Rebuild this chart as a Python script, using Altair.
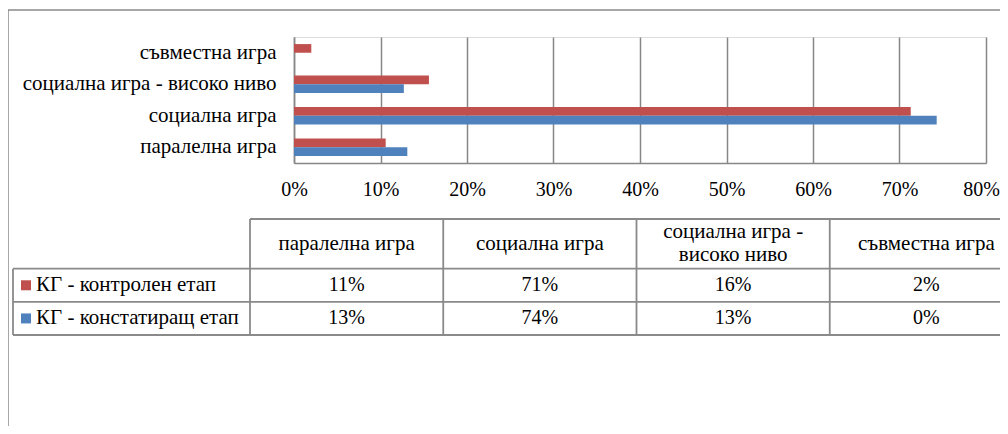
import altair as alt
import pandas as pd

# ---------------- data ----------------
categories = ["паралелна игра", "социална игра", "социална игра - високо ниво", "съвместна игра"]
series_names = ["КГ - контролен етап", "КГ - констатиращ етап"]
control_values = [0.106, 0.713, 0.156, 0.020]
initial_values = [0.131, 0.743, 0.127, 0.000]
x_ticks = [0, 0.1, 0.2, 0.3, 0.4, 0.5, 0.6, 0.7, 0.8]
series_colors = ["#C0504D", "#4F81BD"]

FONT = "Liberation Serif"
FS_TEXT = 21
FS_NUM = 20
FS_LEG = 21
GRID = "#878787"
LINE = "#8a8a8a"

rows = []
for si, (s, vals) in enumerate(zip(series_names, [control_values, initial_values])):
    for c, v in zip(categories, vals):
        rows.append({"category": c, "series": s, "value": v, "row": 2.0 + si})
df = pd.DataFrame(rows)

header_df = pd.DataFrame({"category": categories, "row": [0.75] * len(categories)})
series_df = pd.DataFrame({"series": series_names, "row": [2.0 + i for i in range(len(series_names))]})
vlines_df = pd.DataFrame({"category": categories, "y0": [0.0] * 4, "y1": [3.5] * 4})
hline_top_df = pd.DataFrame({"y": [0.0]})
hlines_df = pd.DataFrame({"y": [1.5, 2.5, 3.5]})
legend_line_df = pd.DataFrame({"y0": [1.5], "y1": [3.5]})
frame_df = pd.DataFrame({"k": [0]})

color_scale = alt.Scale(domain=series_names, range=series_colors)
col_scale = alt.Scale(type="band", domain=categories, range=[-44, 729], paddingInner=0, paddingOuter=0)
row_scale = alt.Scale(domain=[0, 3.5], range=[182, 298], zero=False, nice=False)

# ---------------- bar chart ----------------
bars = alt.Chart(df).mark_bar().encode(
    y=alt.Y(
        "category:N",
        sort=categories[::-1],
        scale=alt.Scale(paddingInner=0.45, paddingOuter=0.225),
        axis=alt.Axis(
            title=None, labelFont=FONT, labelFontSize=FS_TEXT, labelColor="black",
            ticks=False, labelPadding=18, domainColor=GRID, domainWidth=1.5,
            labelLimit=500,
        ),
    ),
    yOffset=alt.YOffset("series:N", sort=series_names, scale=alt.Scale(paddingInner=0, paddingOuter=0)),
    x=alt.X(
        "value:Q",
        scale=alt.Scale(domain=[0, 0.8], nice=False, zero=True),
        axis=alt.Axis(
            values=x_ticks, format=".0%", grid=True, gridColor=GRID, gridWidth=1.5,
            ticks=False, domainColor=GRID, domainWidth=1.5, labelFont=FONT,
            labelFontSize=FS_NUM, labelColor="black", labelPadding=26, labelBaseline="middle",
            title=None, labelFlush=False, labelOverlap=False,
            labelOffset=alt.condition("datum.value >= 0.8", alt.value(-5), alt.value(0)),
        ),
    ),
    color=alt.Color("series:N", scale=color_scale, legend=None),
)

# ---------------- frame ----------------
frame = alt.Chart(frame_df).mark_rect(filled=False, stroke=LINE, strokeWidth=1.5).encode(
    x=alt.value(-286), x2=alt.value(800), y=alt.value(-27), y2=alt.value(600)
)

# ---------------- data table ----------------
vlines = alt.Chart(vlines_df).mark_rule(color=LINE, strokeWidth=1.8).encode(
    x=alt.X("category:N", scale=col_scale, axis=None, bandPosition=0),
    y=alt.Y("y0:Q", scale=row_scale, axis=None),
    y2="y1:Q",
)
hline_top = alt.Chart(hline_top_df).mark_rule(color=LINE, strokeWidth=1.8).encode(
    y=alt.Y("y:Q", scale=row_scale, axis=None), x=alt.value(-44), x2=alt.value(800)
)
hlines = alt.Chart(hlines_df).mark_rule(color=LINE, strokeWidth=1.8).encode(
    y=alt.Y("y:Q", scale=row_scale, axis=None), x=alt.value(-281), x2=alt.value(800)
)
legend_line = alt.Chart(legend_line_df).mark_rule(color=LINE, strokeWidth=1.8).encode(
    y=alt.Y("y0:Q", scale=row_scale, axis=None), y2="y1:Q", x=alt.value(-281)
)

header_base = alt.Chart(header_df).transform_calculate(
    label="replace(datum.category, ' - ', ' -\\n')",
    multi="indexof(datum.category, ' - ') >= 0",
)
header_single = header_base.transform_filter("!datum.multi").mark_text(
    font=FONT, fontSize=FS_TEXT, baseline="middle", color="black"
).encode(
    x=alt.X("category:N", scale=col_scale, axis=None, bandPosition=0.5),
    y=alt.Y("row:Q", scale=row_scale, axis=None),
    text="label:N",
)
header_multi = header_base.transform_filter("datum.multi").mark_text(
    font=FONT, fontSize=FS_TEXT, lineBreak="\n", baseline="middle", lineHeight=23, dy=-11.5, color="black"
).encode(
    x=alt.X("category:N", scale=col_scale, axis=None, bandPosition=0.5),
    y=alt.Y("row:Q", scale=row_scale, axis=None),
    text="label:N",
)

cells = alt.Chart(df).mark_text(font=FONT, fontSize=FS_NUM, baseline="middle", color="black").encode(
    x=alt.X("category:N", scale=col_scale, axis=None, bandPosition=0.5),
    y=alt.Y("row:Q", scale=row_scale, axis=None),
    text=alt.Text("value:Q", format=".0%"),
)

swatches = alt.Chart(series_df).mark_square(size=100, opacity=1).encode(
    x=alt.value(-268),
    y=alt.Y("row:Q", scale=row_scale, axis=None),
    color=alt.Color("series:N", scale=color_scale, legend=None),
)
legend_text = alt.Chart(series_df).mark_text(
    font=FONT, fontSize=FS_LEG, baseline="middle", align="left", color="black"
).encode(
    x=alt.value(-258),
    y=alt.Y("row:Q", scale=row_scale, axis=None),
    text="series:N",
)

chart = alt.layer(
    frame, vlines, hline_top, hlines, legend_line, header_single, header_multi,
    cells, swatches, legend_text, bars
).resolve_scale(
    x="independent", y="independent"
).properties(
    width=692,
    height=126,
    autosize=alt.AutoSizeParams(type="none"),
    padding={"left": 286, "top": 29, "right": 14, "bottom": 263},
).configure_view(stroke=None).configure(background="white")

chart.save("out.html", embed_options={"renderer": "svg", "actions": False})
